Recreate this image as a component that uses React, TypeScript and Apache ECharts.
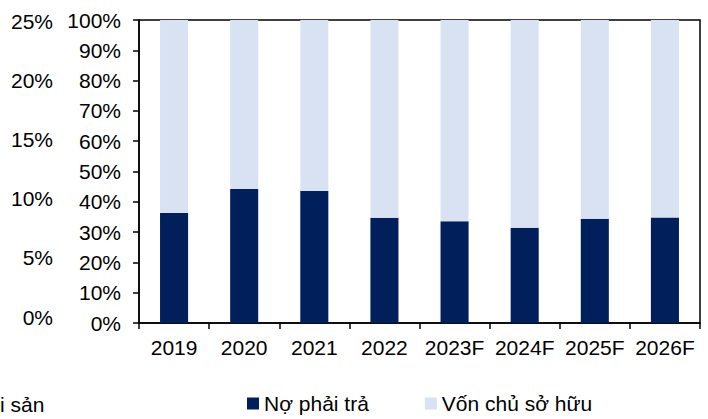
import React, { useEffect, useRef } from "react";
import * as echarts from "echarts";

const categories = ["2019", "2020", "2021", "2022", "2023F", "2024F", "2025F", "2026F"];
const debtShare = [36.3, 44.2, 43.6, 34.7, 33.6, 31.4, 34.4, 34.8];
const equityShare = [63.7, 55.8, 56.4, 65.3, 66.4, 68.6, 65.6, 65.2];
const seriesNames = ["Nợ phải trả", "Vốn chủ sở hữu"];
const leftoverLabel = "i sản";

const FONT = "'Liberation Sans', Arial, sans-serif";
const FS = 21;
const NAVY = "#001F5B";
const LIGHT = "#D9E2F3";

export default function App() {
  const ref = useRef<HTMLDivElement>(null);
  useEffect(() => {
    if (!ref.current) return;
    const chart = echarts.init(ref.current, undefined, { renderer: "svg" });
    chart.setOption({
      animation: false,
      backgroundColor: "#ffffff",
      textStyle: { fontFamily: FONT },
      grid: [
        {
          left: 139,
          right: 8,
          top: 20,
          bottom: 96,
          show: true,
          borderColor: "#000",
          borderWidth: 1.5,
        },
        { left: 139, right: 8, top: 21, bottom: 102 },
      ],
      legend: {
        data: seriesNames,
        left: 247,
        top: 393,
        padding: 0,
        icon: "rect",
        itemWidth: 12,
        itemHeight: 12,
        itemGap: 56,
        textStyle: { fontFamily: FONT, fontSize: FS, color: "#000" },
      },
      xAxis: [
        {
          type: "category",
          gridIndex: 0,
          data: categories,
          axisLine: { lineStyle: { color: "#000", width: 1.5 } },
          axisTick: { show: true, length: 6, interval: 0, lineStyle: { color: "#000", width: 1.5 } },
          axisLabel: { color: "#000", fontSize: FS, fontFamily: FONT, margin: 14, interval: 0 },
        },
        {
          type: "category",
          gridIndex: 1,
          data: categories,
          show: false,
        },
      ],
      yAxis: [
        {
          type: "value",
          gridIndex: 0,
          min: 0,
          max: 100,
          interval: 10,
          splitLine: { show: false },
          axisLine: { show: true, lineStyle: { color: "#000", width: 1.5 } },
          axisTick: { show: true, length: 6, lineStyle: { color: "#000", width: 1.5 } },
          axisLabel: { color: "#000", fontSize: FS, fontFamily: FONT, margin: 18, formatter: "{value}%" },
        },
        {
          type: "value",
          gridIndex: 1,
          min: 0,
          max: 25,
          interval: 5,
          splitLine: { show: false },
          axisLine: { show: false },
          axisTick: { show: false },
          axisLabel: { color: "#000", fontSize: FS, fontFamily: FONT, margin: 86, formatter: "{value}%" },
        },
      ],
      series: [
        {
          name: seriesNames[0],
          type: "bar",
          stack: "total",
          barWidth: "40%",
          data: debtShare,
          itemStyle: { color: NAVY },
        },
        {
          name: seriesNames[1],
          type: "bar",
          stack: "total",
          barWidth: "40%",
          data: equityShare,
          itemStyle: { color: LIGHT },
        },
      ],
      graphic: [
        {
          type: "text",
          left: 0,
          top: 394,
          style: { text: leftoverLabel, fontSize: FS, fontFamily: FONT, fill: "#000" },
        },
      ],
    });
    return () => chart.dispose();
  }, []);
  return <div ref={ref} style={{ position: "fixed", left: 0, top: 0, width: 708, height: 419 }} />;
}
